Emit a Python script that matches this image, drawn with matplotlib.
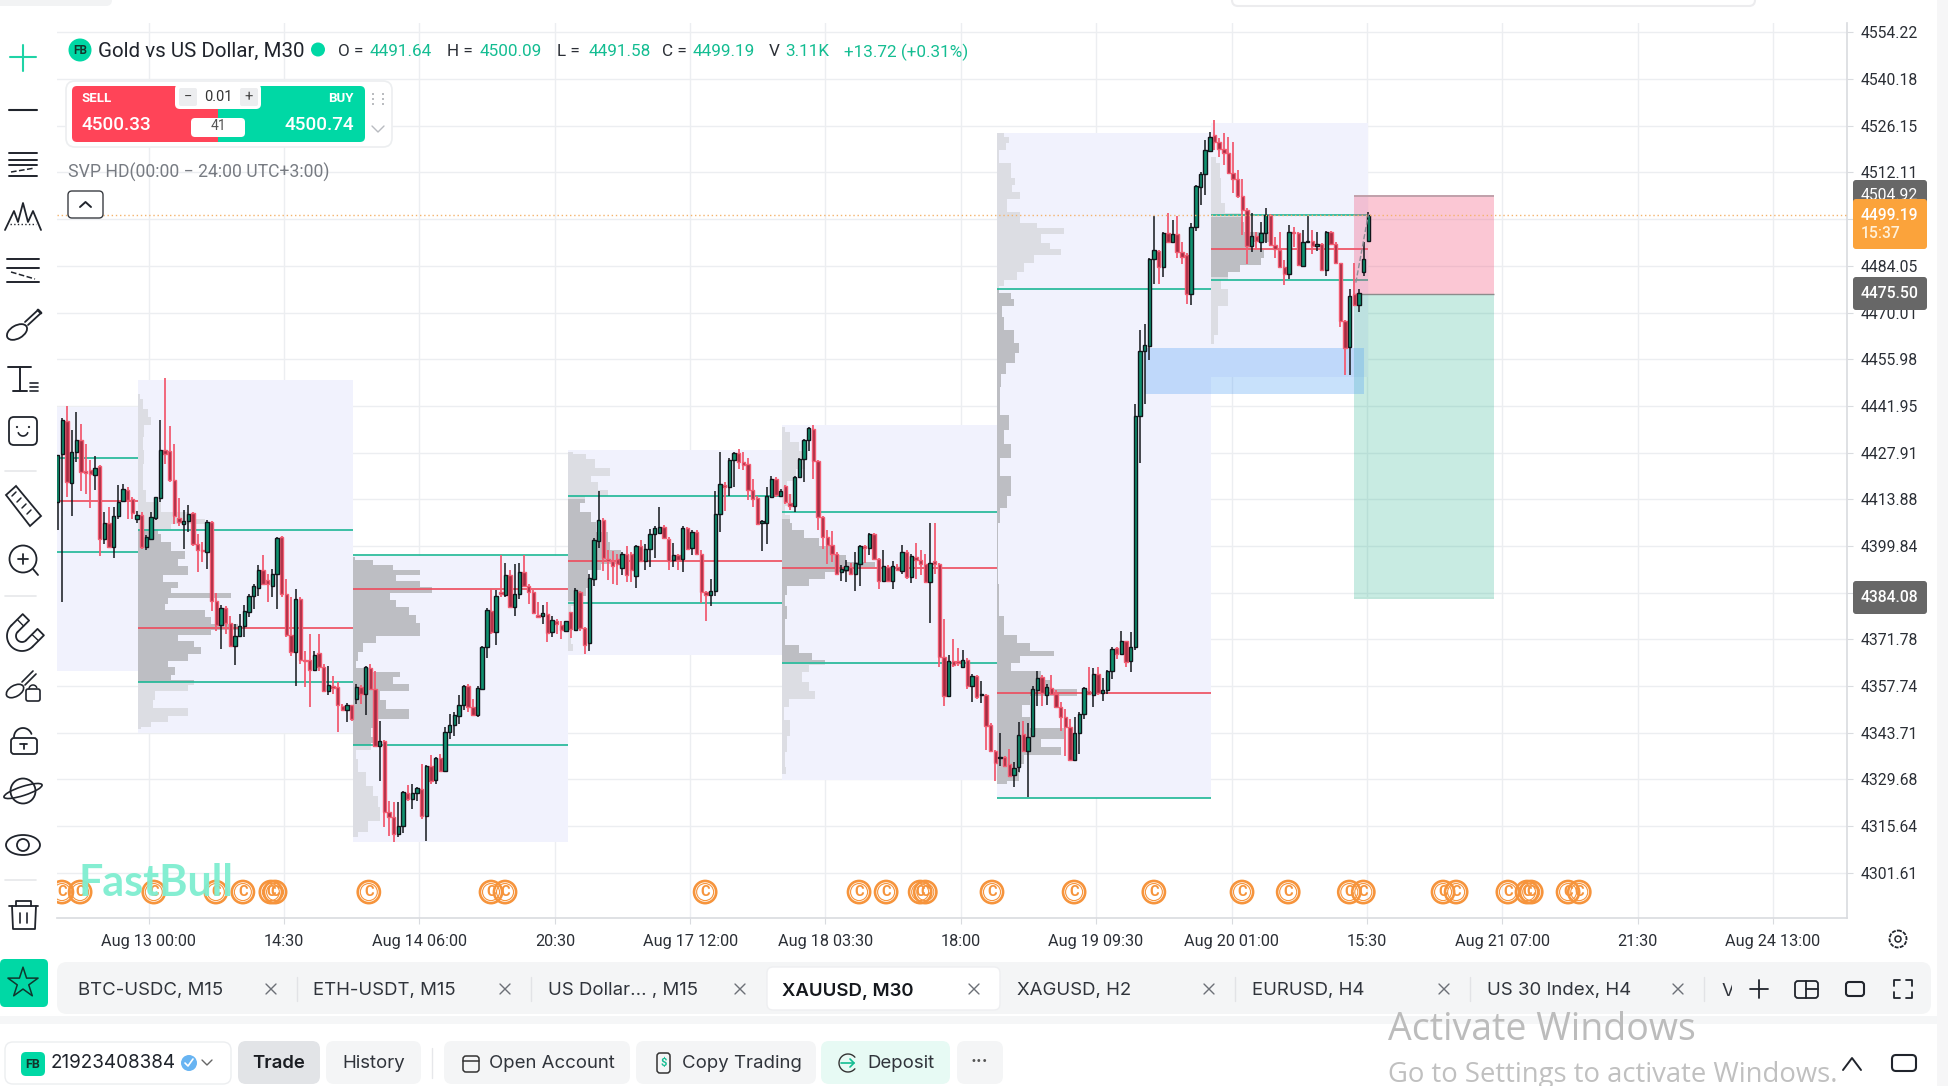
import numpy as np
import matplotlib
matplotlib.use("Agg")
import matplotlib.pyplot as plt
from matplotlib.patches import FancyBboxPatch, Rectangle, Circle, Ellipse, Polygon

W, H = 1948, 1086

# candles, M30 bars
bar_open = [
    4413.0,4427.4,4437.4,4418.9,4428.1,4431.8,4422.4,4422.6,4421.3,4423.8,
    4402.0,4406.7,4399.5,4408.7,4413.3,4416.8,4414.0,4407.9,4409.2,4399.5,
    4402.0,4408.3,4414.3,4428.6,4428.3,4419.6,4408.1,4406.5,4407.2,4409.7,
    4400.5,4398.7,4398.0,4407.0,4383.3,4376.2,4381.3,4376.7,4369.8,4372.9,
    4375.7,4379.9,4384.9,4387.3,4392.5,4389.5,4387.8,4391.3,4402.5,4385.3,
    4373.1,4367.9,4384.0,4365.6,4365.6,4362.6,4367.6,4363.6,4356.2,4357.6,
    4357.4,4351.6,4350.4,4351.9,4353.9,4357.4,4355.4,4363.1,4356.9,4339.8,
    4341.1,4319.8,4318.5,4313.2,4315.7,4325.5,4323.8,4325.5,4326.8,4318.6,
    4333.8,4329.5,4336.0,4332.1,4343.8,4346.1,4348.8,4351.9,4357.6,4351.4,
    4349.1,4356.9,4369.6,4380.3,4373.9,4385.9,4385.0,4391.0,4381.6,4385.3,
    4392.0,4387.7,4386.0,4379.2,4378.7,4379.4,4373.9,4377.2,4376.2,4374.4,
    4379.9,4374.6,4385.9,4375.2,4370.7,4389.9,4401.3,4407.7,4395.8,4395.3,
    4396.0,4393.3,4397.3,4397.5,4390.7,4399.7,4395.2,4399.0,4403.3,4403.7,
    4405.5,4402.0,4395.7,4397.2,4396.0,4405.3,4399.3,4404.0,4397.3,4385.9,
    4385.1,4386.4,4409.3,4418.3,4417.7,4425.8,4427.8,4425.1,4424.6,4416.8,
    4414.3,4406.8,4406.8,4414.5,4420.0,4415.0,4418.0,4412.7,4411.8,4420.5,
    4426.1,4431.8,4434.9,4425.3,4408.5,4402.5,4400.0,4397.3,4392.0,4392.5,
    4393.5,4391.5,4394.5,4399.7,4399.3,4403.5,4396.0,4389.4,4393.5,4389.4,
    4393.5,4392.3,4398.1,4390.4,4396.5,4395.7,4394.5,4388.9,4395.2,4394.3,
    4366.6,4354.8,4365.4,4365.2,4363.6,4365.6,4357.7,4360.7,4354.9,4355.1,
    4346.0,4338.3,4336.1,4336.3,4334.3,4331.0,4333.3,4343.3,4338.3,4342.6,
    4356.5,4360.4,4355.1,4357.1,4355.3,4351.5,4348.3,4345.3,4335.6,4343.5,
    4349.3,4356.3,4355.1,4361.2,4355.7,4356.5,4362.4,4369.2,4367.4,4371.2,
    4365.2,4369.4,4439.0,4458.5,4460.0,4486.0,4488.6,4483.8,4494.0,4491.3,
    4493.6,4488.3,4487.3,4475.7,4495.6,4507.6,4511.6,4518.7,4523.4,4521.4,
    4519.1,4517.9,4512.1,4510.3,4505.0,4500.8,4490.0,4493.1,4491.1,4493.8,
    4499.2,4490.3,4488.8,4483.6,4481.5,4494.2,4494.0,4484.1,4491.3,4491.5,
    4490.1,4490.5,4482.8,4494.3,4490.5,4484.8,4467.4,4459.7,4475.7,4472.2,
    4482.3,4491.64]
bar_high = [
    4427.1,4438.4,4441.8,4434.6,4440.1,4436.4,4430.4,4425.6,4426.8,4424.1,
    4410.0,4411.5,4411.5,4418.1,4418.6,4417.6,4414.5,4410.5,4410.0,4403.0,
    4410.0,4414.7,4437.8,4450.2,4435.8,4430.6,4414.3,4410.7,4412.2,4410.0,
    4403.5,4401.0,4407.5,4407.3,4385.7,4382.0,4381.7,4378.9,4376.4,4379.4,
    4382.2,4385.3,4388.5,4394.0,4397.0,4391.5,4393.0,4402.5,4402.7,4390.0,
    4384.5,4387.0,4384.5,4368.4,4373.4,4368.4,4373.4,4364.4,4363.9,4360.6,
    4358.9,4352.4,4352.7,4352.1,4358.2,4357.9,4363.9,4364.4,4362.4,4347.3,
    4341.5,4323.3,4322.8,4322.8,4326.3,4328.1,4328.3,4327.3,4334.3,4334.0,
    4337.1,4336.3,4337.3,4345.5,4349.3,4349.9,4354.9,4357.9,4358.4,4353.9,
    4357.6,4369.9,4381.2,4387.0,4386.5,4397.0,4394.8,4392.5,4394.3,4394.7,
    4397.0,4388.5,4386.5,4383.0,4382.0,4383.0,4378.9,4377.9,4377.4,4377.4,
    4379.9,4387.1,4386.2,4375.4,4391.3,4402.3,4416.5,4408.3,4398.5,4398.3,
    4397.5,4398.0,4399.7,4398.0,4400.0,4401.5,4400.3,4404.8,4405.7,4411.7,
    4406.0,4402.5,4400.8,4397.5,4405.8,4405.5,4404.7,4404.5,4398.5,4386.4,
    4390.0,4416.5,4428.1,4419.0,4426.3,4428.1,4429.1,4428.1,4426.4,4420.0,
    4415.0,4407.5,4417.5,4421.0,4420.5,4417.0,4418.3,4415.5,4420.8,4426.3,
    4432.1,4435.6,4436.3,4425.8,4408.7,4404.7,4404.3,4398.0,4394.0,4395.5,
    4394.7,4398.0,4400.2,4400.2,4403.7,4403.7,4396.2,4398.7,4394.0,4395.2,
    4394.5,4400.0,4398.5,4397.3,4400.8,4398.5,4397.5,4406.8,4406.8,4394.7,
    4377.9,4367.2,4371.9,4369.2,4368.6,4366.2,4361.2,4360.9,4359.2,4355.3,
    4346.5,4338.5,4343.5,4336.8,4338.8,4334.8,4346.8,4347.3,4346.5,4357.8,
    4362.4,4360.9,4358.3,4360.9,4356.5,4352.8,4350.8,4347.8,4348.5,4349.8,
    4357.3,4363.6,4363.1,4363.6,4360.0,4362.6,4369.4,4369.6,4374.4,4371.4,
    4373.9,4442.4,4464.7,4466.5,4486.3,4499.0,4488.8,4494.3,4499.8,4497.8,
    4499.0,4491.3,4487.8,4497.0,4508.3,4512.3,4521.9,4524.4,4527.9,4522.4,
    4523.9,4522.9,4521.4,4512.8,4510.3,4501.3,4499.8,4494.3,4497.3,4501.3,
    4499.6,4492.8,4494.3,4485.8,4496.3,4495.8,4494.3,4494.8,4499.0,4494.8,
    4494.3,4490.8,4494.6,4494.6,4491.1,4485.0,4467.9,4477.2,4485.0,4477.2,
    4491.3,4500.09]
bar_low = [
    4404.5,4382.9,4414.7,4408.7,4425.1,4416.4,4415.6,4411.2,4416.6,4396.7,
    4400.3,4399.3,4396.3,4408.0,4413.0,4408.0,4408.0,4406.7,4399.0,4398.5,
    4401.5,4407.5,4413.0,4424.6,4419.1,4406.5,4405.7,4399.0,4404.0,4399.7,
    4392.0,4395.0,4393.0,4380.4,4374.4,4368.9,4373.4,4369.4,4364.2,4372.4,
    4372.4,4378.6,4380.9,4384.7,4388.0,4383.0,4384.5,4380.9,4384.5,4372.4,
    4366.9,4357.7,4364.4,4357.4,4351.4,4362.4,4362.4,4355.9,4354.9,4355.2,
    4343.8,4350.2,4346.8,4347.3,4352.2,4352.4,4349.1,4356.6,4339.8,4329.3,
    4315.3,4312.7,4310.9,4312.2,4313.7,4323.3,4320.8,4323.3,4317.8,4311.2,
    4328.3,4328.3,4331.8,4331.8,4341.8,4342.8,4346.3,4350.4,4349.9,4348.8,
    4348.3,4356.6,4366.2,4373.4,4370.2,4384.5,4384.5,4381.4,4378.9,4384.0,
    4387.5,4382.4,4379.4,4378.4,4376.4,4370.9,4372.4,4373.4,4371.9,4373.9,
    4372.1,4374.4,4374.4,4367.4,4368.2,4387.9,4399.2,4392.3,4389.6,4388.4,
    4388.2,4391.2,4388.9,4388.9,4387.1,4395.0,4392.5,4393.5,4396.2,4403.5,
    4402.0,4392.5,4393.5,4392.7,4392.0,4398.7,4397.0,4397.0,4382.6,4377.4,
    4381.7,4384.9,4404.0,4410.5,4415.0,4417.5,4423.0,4422.7,4413.7,4411.5,
    4406.0,4398.3,4400.3,4414.3,4414.7,4414.7,4412.5,4410.7,4410.0,4420.2,
    4419.0,4428.4,4420.0,4404.5,4399.0,4394.3,4395.0,4391.0,4389.2,4388.9,
    4391.2,4386.2,4387.7,4394.7,4397.0,4395.7,4386.9,4389.2,4388.9,4386.9,
    4392.3,4391.5,4389.9,4388.6,4389.9,4391.0,4388.6,4376.6,4391.5,4363.6,
    4351.8,4354.5,4363.6,4363.9,4363.4,4356.9,4352.8,4353.8,4352.5,4338.5,
    4338.1,4329.3,4333.8,4333.3,4330.3,4327.3,4331.8,4337.8,4324.4,4342.3,
    4351.8,4351.8,4352.1,4355.1,4351.3,4344.3,4336.8,4335.1,4335.3,4337.3,
    4347.8,4355.1,4351.3,4355.1,4353.3,4355.3,4359.8,4365.9,4367.2,4363.4,
    4361.9,4368.6,4424.7,4442.6,4455.7,4478.5,4478.5,4480.6,4491.0,4491.0,
    4486.3,4484.6,4472.7,4472.2,4494.6,4502.3,4505.3,4518.4,4518.9,4516.7,
    4514.4,4511.8,4505.8,4504.3,4493.3,4484.6,4488.3,4489.0,4488.3,4490.8,
    4490.0,4486.3,4483.3,4478.2,4480.2,4489.6,4484.0,4483.8,4490.8,4487.5,
    4488.6,4482.5,4481.1,4490.3,4484.6,4465.7,4451.2,4451.2,4471.9,4470.2,
    4481.0,4491.58]
bar_close = [
    4427.1,4437.8,4419.1,4428.1,4431.8,4422.1,4421.8,4421.6,4423.4,4402.0,
    4406.7,4399.5,4408.9,4413.2,4416.9,4413.7,4409.7,4409.2,4399.5,4402.5,
    4408.5,4414.5,4428.6,4427.6,4419.6,4408.9,4406.9,4407.3,4409.5,4400.5,
    4398.5,4398.3,4407.0,4383.3,4376.2,4381.3,4376.7,4369.8,4372.9,4375.9,
    4380.4,4384.9,4387.7,4392.5,4388.5,4388.5,4391.3,4402.2,4385.3,4373.1,
    4367.9,4384.0,4365.6,4365.4,4362.6,4367.2,4363.6,4356.2,4358.1,4357.2,
    4351.9,4350.4,4352.1,4347.8,4357.4,4355.4,4363.4,4356.9,4339.8,4341.1,
    4319.8,4318.3,4313.2,4315.7,4326.0,4323.8,4325.5,4327.0,4318.8,4333.8,
    4329.3,4336.0,4332.3,4343.8,4346.0,4349.1,4351.9,4357.6,4351.4,4349.1,
    4357.2,4369.6,4380.7,4373.9,4384.8,4385.3,4391.0,4381.6,4385.3,4392.0,
    4387.7,4386.0,4379.6,4378.6,4379.6,4373.6,4377.6,4376.4,4374.6,4377.2,
    4374.9,4386.6,4375.2,4370.2,4390.1,4401.5,4407.7,4396.2,4395.3,4393.7,
    4394.5,4397.3,4391.2,4392.5,4399.7,4395.3,4399.0,4403.3,4405.3,4405.5,
    4402.2,4395.3,4397.2,4395.5,4405.3,4399.0,4404.0,4397.3,4385.9,4385.1,
    4386.4,4409.3,4418.5,4417.5,4425.8,4427.8,4425.1,4424.3,4416.8,4414.0,
    4406.5,4407.2,4414.8,4420.0,4415.2,4416.3,4413.0,4411.8,4420.5,4426.1,
    4431.8,4435.4,4425.3,4408.5,4402.5,4400.0,4397.3,4391.5,4393.0,4393.7,
    4391.5,4394.8,4399.8,4399.3,4403.3,4396.0,4389.4,4393.8,4389.4,4393.7,
    4392.7,4398.1,4390.4,4396.7,4395.7,4394.5,4388.9,4394.8,4394.3,4366.6,
    4354.8,4365.2,4364.2,4364.6,4365.6,4357.6,4360.7,4354.3,4355.3,4345.8,
    4338.3,4334.5,4336.3,4333.8,4330.8,4333.1,4343.1,4338.3,4342.5,4356.8,
    4360.0,4355.5,4357.3,4355.3,4351.5,4348.3,4345.3,4335.5,4343.5,4349.3,
    4357.1,4355.3,4361.2,4355.5,4356.6,4362.4,4368.9,4367.4,4371.2,4364.9,
    4369.4,4439.0,4458.5,4460.2,4486.1,4488.8,4483.8,4494.0,4491.3,4493.6,
    4488.3,4486.8,4475.7,4495.6,4508.0,4511.8,4518.9,4522.9,4521.4,4519.1,
    4517.9,4512.1,4510.3,4505.0,4500.8,4490.0,4493.1,4491.6,4494.0,4499.2,
    4490.3,4489.0,4483.6,4481.6,4494.3,4493.8,4484.3,4491.1,4491.5,4490.0,
    4490.5,4482.8,4494.3,4490.5,4484.8,4467.4,4459.5,4475.0,4472.2,4475.9,
    4486.0,4499.19]

# session volume profile blocks: start bar, end bar, top, bottom, VAH, POC, VAL
session_start = [-1.0, 17.2, 63.3, 109.4, 155.3, 201.4, 247.3]
session_end = [17.2, 63.3, 109.4, 155.3, 201.4, 247.3, 280.9]
session_top = [4441.6, 4449.7, 4396.8, 4428.8, 4436.1, 4524.1, 4526.9]
session_bottom = [4362.4, 4343.5, 4310.9, 4367.1, 4329.5, 4324.2, 4450.7]
session_vah = [4426.3, 4404.7, 4397.0, 4414.8, 4409.9, 4477.2, 4499.3]
session_poc = [4413.5, 4375.3, 4386.8, 4395.4, 4393.2, 4355.5, 4489.0]
session_val = [4398.0, 4358.9, 4339.9, 4382.8, 4364.6, 4324.2, 4479.7]

# profile levels (price) and their widths (in bars)
prof_b_price = [4445.6,4442.6,4439.6,4437.6,4434.6,4430.6,4426.6,4422.6,4418.6,4414.6,4411.5,4408.5,4407.5,4405.5,4404.5,4402.5,4399.5,4397.0,4395.0,4392.5,4390.0,4388.0,4386.5,4385.0,4383.5,4381.5,4379.4,4377.4,4375.3,4373.9,4372.4,4370.4,4368.4,4366.4,4364.4,4362.4,4359.9,4358.9,4357.4,4354.9,4352.4,4349.9,4347.8,4346.3,4344.8]
prof_b_width = [0.4,1.1,2.1,2.9,1.4,1.1,1.4,1.1,1.1,1.8,5,10.7,14.3,7.1,4.3,5,7.1,10,8.6,10.7,5.4,8.6,7.1,20,6.4,5.7,14.3,15.7,21.4,15.7,8.6,12.1,13.6,10.7,6.4,7.9,7.1,12.1,10.7,3.6,3.2,10.7,6.4,2.9,0.7]
prof_c_price = [4396.5,4395.0,4393.5,4392.0,4390.0,4388.5,4386.8,4384.5,4382.5,4380.4,4377.9,4375.4,4373.4,4371.9,4369.4,4366.4,4363.9,4362.4,4361.4,4359.4,4357.4,4354.9,4352.4,4349.4,4346.3,4343.8,4341.3,4339.9,4337.3,4334.3,4329.3,4326.3,4323.3,4319.3,4315.3,4312.2]
prof_c_width = [0.4,4.3,8.6,14.3,9.3,14.3,17,7.9,9.3,12.1,13.6,14.3,14.3,5,2.1,1.1,0.7,4.3,10,8.6,12.1,5.7,7.1,12.1,4.3,3.9,5,3.9,0.7,1.1,2.9,4.3,5.4,5.7,3.2,1.1]
prof_d_price = [4428.1,4427.1,4424.6,4422.0,4420.0,4418.0,4415.5,4414.0,4411.5,4408.5,4405.5,4402.5,4399.5,4398.0,4395.5,4393.5,4391.5,4388.4,4385.9,4383.4,4380.4,4375.4,4372.4,4368.4]
prof_d_width = [1.1,3.9,5.7,8.9,5,6.4,8.6,3.6,2.5,5,6.1,8.6,8.9,11.4,12.1,7.1,4.3,5,3.9,1.4,0.7,0.4,0.7,1.1]
prof_e_price = [4435.6,4432.6,4429.6,4427.1,4424.6,4421.5,4417.5,4413.5,4410.5,4408.0,4405.5,4403.5,4401.0,4398.5,4396.0,4394.0,4393.0,4391.0,4388.9,4386.9,4383.4,4380.4,4375.4,4371.4,4368.9,4366.4,4364.9,4363.4,4360.4,4357.4,4354.8,4352.8,4349.8,4345.3,4340.3,4335.3,4331.3]
prof_e_width = [0.6,1.8,3.6,4.3,5,2.9,1.1,2.1,0.7,1.8,2.1,4.6,7.9,10.7,13.6,20,14.3,9.3,5.7,1.1,0.7,1.1,0.7,0.7,3.6,6.4,9.3,5.7,4.3,5.7,7.1,1.4,0.4,1.8,1.1,0.7,0.9]
prof_f_price = [4523.9,4521.9,4519.9,4517.9,4511.8,4509.3,4507.3,4505.3,4502.8,4497.8,4495.8,4494.8,4492.3,4489.8,4488.3,4486.3,4483.3,4480.8,4478.7,4477.2,4474.7,4473.2,4470.7,4466.7,4462.7,4459.2,4456.2,4453.2,4449.7,4445.6,4441.6,4437.1,4432.6,4428.1,4424.5,4417.5,4412.5,4410.0,4403.5,4393.4,4383.4,4374.4,4371.9,4369.4,4367.4,4365.9,4363.4,4360.9,4358.3,4355.5,4353.8,4350.3,4346.8,4343.3,4340.3,4338.3,4335.8,4332.8,4330.3,4328.3]
prof_f_width = [1.4,2.5,1.8,0.4,2.9,3.9,3.2,5,2.1,5,8.6,14.3,9.3,11.4,13.6,7.9,5.7,4.3,1.4,0.4,2.9,3.6,1.1,1.4,3.6,4.6,3.9,1.8,0.9,0.7,0.7,2.5,1.4,2.9,0.6,2.9,2.1,0.7,0.15,0.15,0.4,1.4,4.3,7.1,12.1,5,2.9,9.3,11.4,17.1,7.1,5.4,7.1,14.3,9.3,13.6,5.7,5,4.6,2.1]
prof_g_price = [4516.9,4512.9,4507.8,4504.8,4500.8,4498.8,4495.8,4492.8,4489.8,4487.8,4485.3,4483.3,4480.8,4478.7,4475.2,4473.2,4470.7,4465.7,4460.7]
prof_g_width = [1.1,1.8,2.1,2.1,2.9,6.4,7.1,12.9,8.6,11.4,10.7,6.1,3.6,2.1,3.6,3.6,1.4,1.4,0.7]

# axis
price_ticks = [4554.22,4540.18,4526.15,4512.11,4498.08,4484.05,4470.01,4455.98,4441.95,4427.91,4413.88,4399.84,4385.81,4371.78,4357.74,4343.71,4329.68,4315.64,4301.61]
time_ticks = [19.5,48.5,77.5,106.6,135.6,164.6,193.6,222.6,251.7,280.7,309.7,338.7,367.7]
time_labels = ["Aug 13 00:00","14:30","Aug 14 06:00","20:30","Aug 17 12:00","Aug 18 03:30","18:00","Aug 19 09:30","Aug 20 01:00","15:30","Aug 21 07:00","21:30","Aug 24 13:00"]

# calendar event markers along the bottom, by bar
event_bars = [0.9,4.8,20.6,33.9,39.7,45.7,46.6,66.7,92.9,95.9,138.8,171.8,177.6,184.9,186.0,200.3,217.9,235.0,253.9,263.8,276.9,279.9,297.0,299.8,310.9,315.0,315.9,323.8,326.2]
event_price = 4295.8

last_price = 4499.19
entry_price = 4475.50
stop_price = 4504.92
target_price = 4384.08

GREEN = "#00d8a5"
RED = "#ff4458"
INK = "#20242c"
GRID = "#eceef1"

plt.rcParams["font.family"] = ["Roboto", "DejaVu Sans"]

fig = plt.figure(figsize=(W / 100, H / 100), dpi=100, facecolor="white")

# price chart, placed so the axis lines land on the right pixels
ax = fig.add_axes([57 / W, 1 - 918 / H, (1847 - 57) / W, (918 - 23) / H])
ax.set_xlim(-0.15, 383.6)
ax.set_ylim(4288.0, 4557.05)
ax.set_axisbelow(True)
ax.grid(True, color=GRID, lw=1.0)
for s in ["top", "left"]:
    ax.spines[s].set_visible(False)
for s in ["right", "bottom"]:
    ax.spines[s].set_color("#d9dbdf")
    ax.spines[s].set_linewidth(1.2)
ax.yaxis.tick_right()
ax.set_yticks(price_ticks)
ax.set_yticklabels([f"{p:.2f}" for p in price_ticks], fontsize=11.3, color="#2b2f36")
ax.set_xticks(time_ticks)
ax.set_xticklabels(time_labels, fontsize=11.7, color="#2b2f36")
ax.tick_params(axis="y", length=4, width=0.8, color="#d9dbdf", pad=6)
ax.tick_params(axis="x", length=4, width=0.8, color="#d9dbdf", pad=7.5)

# session blocks
for x0, x1, top, bot in zip(session_start, session_end, session_top, session_bottom):
    ax.add_patch(Rectangle((x0, bot), x1 - x0, top - bot, fc="#f1f2fd", ec="none", zorder=1))

profiles = [(1, prof_b_price, prof_b_width), (2, prof_c_price, prof_c_width),
            (3, prof_d_price, prof_d_width), (4, prof_e_price, prof_e_width),
            (5, prof_f_price, prof_f_width), (6, prof_g_price, prof_g_width)]
for k, levels, widths in profiles:
    levels = np.array(levels)
    widths = np.array(widths)
    x0 = session_start[k]
    ax.fill_betweenx(levels, x0, x0 + widths, step="mid", color="#dcdde3", lw=0, zorder=2)
    inside = (levels <= session_vah[k]) & (levels >= session_val[k])
    ax.fill_betweenx(levels, x0, x0 + widths, where=inside, step="mid", color="#bdbec3", lw=0, zorder=2.1)

ax.hlines(session_vah, session_start, session_end, color="#1db795", lw=1.2, zorder=3)
ax.hlines(session_val, session_start, session_end, color="#1db795", lw=1.2, zorder=3)
ax.hlines(session_poc, session_start, session_end, color="#ee4b5c", lw=1.2, zorder=3)

# position tool and zone, see-through and under the candles
ax.add_patch(Rectangle((277.9, entry_price), 30.1, stop_price - entry_price, fc="#f4577f", alpha=0.33, ec="none", zorder=3.5))
ax.add_patch(Rectangle((277.9, target_price), 30.1, entry_price - target_price, fc="#19ae86", alpha=0.24, ec="none", zorder=3.5))
ax.add_patch(Rectangle((233.1, 4445.4), 47.0, 14.1, fc="#5aa5f5", alpha=0.33, ec="none", zorder=3.5))
ax.hlines([stop_price], 277.9, 308, color="#c0a0aa", lw=1.4, zorder=3.6)
ax.hlines([entry_price], 277.9, 308, color="#8c8c8c", lw=1.0, zorder=3.6)
ax.hlines([target_price], 277.9, 308, color="#bfe5da", lw=1.4, zorder=3.6)

# candles
bars = np.arange(len(bar_close))
o, h, l, c = map(np.array, (bar_open, bar_high, bar_low, bar_close))
up = c >= o
ax.vlines(bars[~up], l[~up], h[~up], color="#f25c72", lw=1.3, zorder=4)
ax.vlines(bars[up], l[up], h[up], color="#14181c", lw=1.1, zorder=4.1)
ax.bar(bars[~up], np.abs(c - o)[~up], bottom=np.minimum(o, c)[~up], width=0.72,
       color="#a52c42", edgecolor="#f25c72", linewidth=1.0, zorder=4.2)
ax.bar(bars[up], np.abs(c - o)[up], bottom=np.minimum(o, c)[up], width=0.72,
       color="#0f9270", edgecolor="#10161a", linewidth=1.0, zorder=4.3)
ax.plot([278.3, 281], [4479, 4499.6], ls="--", color="#8d8d96", lw=1.0, zorder=4.4)
ax.axhline(last_price, color="#f4b36c", lw=1.0, ls=(0, (1, 2)), zorder=5.2)

# event markers
ax.scatter(event_bars, [event_price] * len(event_bars), s=255, facecolors="none",
           edgecolors="#f6943c", linewidths=1.9, zorder=6)
ax.scatter(event_bars, [event_price] * len(event_bars), s=150, facecolors="none",
           edgecolors="#f6943c", linewidths=0.8, zorder=6)
for b in event_bars:
    ax.text(b, event_price, "C", color="#f6943c", fontsize=10.5, ha="center", va="center",
            fontweight="bold", zorder=6, clip_on=True)
ax.text(4.4, 4298.5, "FastBull", color="#7feed0", fontsize=31, fontweight="bold",
        family="Lato", ha="left", va="center", alpha=0.95, zorder=7)

# everything else on a pixel overlay
ui = fig.add_axes([0, 0, 1, 1], zorder=5)
ui.set_xlim(0, W)
ui.set_ylim(H, 0)
ui.axis("off")
ui.patch.set_alpha(0)


def box(x0, y0, x1, y1, fc, ec="none", r=6, lw=1.0, z=2):
    p = FancyBboxPatch((x0 + r, y0 + r), x1 - x0 - 2 * r, y1 - y0 - 2 * r,
                       boxstyle=f"round,pad={r},rounding_size={r}", fc=fc, ec=ec, lw=lw, zorder=z)
    ui.add_patch(p)


def line(xs, ys, color=INK, lw=1.3, ls="-", z=4):
    ui.plot(xs, ys, color=color, lw=lw, ls=ls, zorder=z, solid_capstyle="round")


def arc(cx, cy, r, a0, a1, color=INK, lw=1.3):
    t = np.radians(np.linspace(a0, a1, 40))
    line(cx + r * np.cos(t), cy + r * np.sin(t), color=color, lw=lw)


def label(x, y, s, size=13, color=INK, ha="left", weight="normal", family="Inter", z=6):
    ui.text(x, y, s, fontsize=size, color=color, ha=ha, va="center", fontweight=weight, family=family, zorder=z)


# top slivers and right strip
box(-10, -20, 112, 6, "#f2f3f4", r=6)
box(1232, -20, 1755, 6, "white", ec="#ececee", r=6, lw=1.5)
ui.add_patch(Rectangle((1937, 0), 11, H, fc="#f6f6f7", ec="none", zorder=1))

# legend row
ui.add_patch(Circle((80, 50), 11.5, fc=GREEN, ec="none", zorder=3))
label(80, 50.5, "FB", 8.5, "#12352c", "center", "bold", "Roboto")
label(97.5, 51, "Gold vs US Dollar, M30", 14.8, INK, family="Roboto")
ui.add_patch(Circle((318, 49.5), 7, fc=GREEN, ec="none", zorder=3))
for x, s in [(338, "O ="), (447, "H ="), (557, "L ="), (662, "C ="), (769, "V")]:
    label(x, 52, s, 12.3, "#2b2f36", family="Roboto")
for x, s in [(370, "4491.64"), (480, "4500.09"), (589, "4491.58"), (693, "4499.19"), (785, "3.11K"), (844, "+13.72 (+0.31%)")]:
    label(x, 52, s, 12.3, "#14bd92", family="Roboto")

# trade widget
box(66, 81, 392, 147, "white", ec="#eceef0", r=9, lw=1.2)
box(72, 86, 224, 142, RED, r=5, z=3)
box(212, 86, 365, 142, GREEN, r=5, z=3)
ui.add_patch(Rectangle((205, 86), 13, 56, fc=RED, ec="none", zorder=3.1))
ui.add_patch(Rectangle((218, 86), 13, 56, fc=GREEN, ec="none", zorder=3.1))
box(175, 84, 261, 109, "white", r=5, z=4)
box(179, 88, 197, 106, "#ecedef", r=2, z=4.1)
box(240, 88, 258, 106, "#ecedef", r=2, z=4.1)
label(188, 97, "−", 10.5, "#444", "center", family="Roboto")
label(249, 97, "+", 10.5, "#444", "center", family="Roboto")
label(218, 97, "0.01", 10.5, "#333", "center", family="Roboto")
box(191, 118, 245, 137, "white", r=4, z=4)
label(218, 126, "41", 10, "#555", "center", family="Roboto")
label(82, 99, "SELL", 9.5, "white", weight="bold", family="Roboto")
label(354, 99, "BUY", 9.5, "white", "right", "bold", "Roboto")
label(82, 125, "4500.33", 13.6, "white", weight="medium", family="Roboto")
label(354, 125, "4500.74", 13.6, "white", "right", "medium", "Roboto")
for dx in (373, 383):
    for dy in (94, 99, 104):
        ui.add_patch(Circle((dx, dy), 1.0, fc="#a8abb0", ec="none", zorder=4))
line([372, 378, 384], [126, 132, 126], "#b8bbc0", 1.0)

label(68, 172, "SVP HD(00:00 − 24:00 UTC+3:00)", 12.7, "#777b82", family="Roboto")
box(68, 191, 103, 218, "white", ec="#3a3d42", r=4, lw=1.0)
line([80, 85.5, 91], [207, 202, 207], INK, 1.4)

# price badges over the axis labels
box(1853, 180, 1927, 204, "#676767", r=3, z=5)
label(1861, 196, "4504.92", 11.3, "white", family="Roboto", z=5.1)
box(1853, 199, 1927, 249, "#fba33b", r=3, z=5.5)
label(1861, 215, "4499.19", 11.3, "white", weight="medium", family="Roboto")
label(1861, 233, "15:37", 11.3, "#fff0d8", weight="medium", family="Roboto")
box(1853, 277, 1927, 310, "#676767", r=3, z=5)
label(1861, 294, "4475.50", 11.3, "white", weight="medium", family="Roboto")
box(1853, 581, 1927, 614, "#676767", r=3, z=5)
label(1861, 598, "4384.08", 11.3, "white", weight="medium", family="Roboto")

# gear
ui.add_patch(Circle((1898, 939), 8.5, fc="white", ec=INK, lw=1.3, ls=(0, (2.2, 0.7)), zorder=4))
ui.add_patch(Circle((1898, 939), 3.0, fc="white", ec=INK, lw=1.1, zorder=4))

# left toolbar
line([10, 36], [57, 57], "#1fd3a6", 1.5)
line([23, 23], [45, 71], "#1fd3a6", 1.5)
line([9, 37], [110, 110], INK, 1.5)
for y in (153, 160, 165, 176):
    line([9, 37], [y, y], INK, 1.4)
line([11, 35], [172, 168], INK, 1.1, "--")
line([5, 14, 18, 23, 28, 33, 41], [230, 211, 222, 203, 222, 211, 230], INK, 1.3)
line([10, 36], [224, 224], INK, 1.0, ":")
for y in (259, 268, 282):
    line([7, 39], [y, y], INK, 1.4)
line([11, 35], [272, 279], INK, 1.1, "--")
# brush
line([38, 25], [310, 322], INK, 1.3)
line([41, 28], [313, 325], INK, 1.3)
line([38, 41], [310, 313], INK, 2.0)
ui.add_patch(Ellipse((17, 332), 22, 13, angle=-30, fc="none", ec=INK, lw=1.3, zorder=4))
# text tool
line([8, 31], [367, 367], INK, 1.4)
line([20, 20], [367, 391], INK, 1.4)
line([13, 27], [391, 391], INK, 1.4)
for y in (383, 387, 391):
    line([30, 38], [y, y], INK, 1.2)
# smile
box(9, 417, 37, 445, "none", ec=INK, r=5, lw=1.3, z=4)
ui.add_patch(Circle((17, 427), 1.1, fc=INK, zorder=4))
ui.add_patch(Circle((29, 427), 1.1, fc=INK, zorder=4))
arc(23, 431, 5, 20, 160, lw=1.2)
line([5, 36], [471, 471], "#e6e7ea", 1.2)
# ruler
ui.add_patch(Polygon([(6, 495), (16, 486), (41, 516), (30, 526)], closed=True, fc="none", ec=INK, lw=1.3, zorder=4))
for x0, y0 in [(16, 492), (21, 498), (26, 504), (31, 510)]:
    line([x0, x0 - 4], [y0, y0 + 4], INK, 1.1)
# zoom
ui.add_patch(Circle((23, 559), 13.5, fc="none", ec=INK, lw=1.3, zorder=4))
line([18, 28], [559, 559], INK, 1.3)
line([23, 23], [554, 564], INK, 1.3)
line([33, 38], [569, 575], INK, 1.3)
line([5, 36], [596, 596], "#e6e7ea", 1.2)
# magnet
arc(22, 636, 15, 45, 225, lw=1.3)
arc(22, 636, 6, 45, 225, lw=1.3)
line([32.6, 43.9, 37.5, 26.2], [646.6, 635.3, 628.9, 640.2], INK, 1.3)
line([11.4, 22.7, 29.1, 17.8], [625.4, 614.1, 620.5, 631.8], INK, 1.3)
line([38.5, 32], [640.7, 634.5], INK, 1.0)
line([17.3, 23.6], [619.5, 626], INK, 1.0)
# brush with lock
line([33, 22], [671, 682], INK, 1.2)
line([36, 25], [674, 685], INK, 1.2)
ui.add_patch(Ellipse((15, 691), 19, 11, angle=-30, fc="none", ec=INK, lw=1.2, zorder=4))
box(26, 689, 40, 701, "none", ec=INK, r=2, lw=1.2, z=4)
arc(33, 689, 4, 180, 340, lw=1.1)
# open lock
box(11, 738, 37, 754, "none", ec=INK, r=3, lw=1.3, z=4)
arc(23, 737, 9, 180, 340, lw=1.3)
line([20, 27], [744, 744], INK, 1.3)
line([23.5, 23.5], [744, 749], INK, 1.3)
# planet
ui.add_patch(Circle((23, 791), 12.5, fc="white", ec=INK, lw=1.3, zorder=4))
ui.add_patch(Ellipse((23, 791), 40, 9, angle=-18, fc="none", ec=INK, lw=1.2, zorder=4))
# eye
ui.add_patch(Ellipse((23, 845), 34, 20, fc="none", ec=INK, lw=1.3, zorder=4))
ui.add_patch(Circle((23, 845), 6, fc="none", ec=INK, lw=1.3, zorder=4))
line([5, 36], [880, 880], "#e6e7ea", 1.2)
# trash
line([9, 38], [906, 906], INK, 1.3)
line([16, 16, 31, 31], [906, 901, 901, 906], INK, 1.3)
line([12, 13, 35, 36], [906, 929, 929, 906], INK, 1.3)
line([20, 20], [913, 923], INK, 1.2)
line([27, 27], [913, 923], INK, 1.2)

# tab strip
box(0, 959, 48, 1007, GREEN, r=5, z=3)
ui.scatter([23], [983], s=520, marker="*", facecolors="none", edgecolors="#10382e", linewidths=1.1, zorder=4)
box(57, 962, 1931, 1014, "#f4f5f6", r=10, z=2)
box(767, 967, 1000, 1010, "white", ec="#eeeff1", r=6, z=3)
tabs = [(78, 271, "BTC-USDC, M15"), (313, 505, "ETH-USDT, M15"), (548, 740, "US Dollar... , M15"),
        (782, 974, "XAUUSD, M30"), (1017, 1209, "XAGUSD, H2"), (1252, 1444, "EURUSD, H4"),
        (1487, 1678, "US 30 Index, H4")]
for tx, cx, s in tabs:
    active = s.startswith("XAU")
    label(tx, 991, s, 13.4, "#15181d" if active else "#30343b", weight="semibold" if active else "normal")
    line([cx - 5, cx + 5], [984, 994], "#6c7077", 1.0)
    line([cx - 5, cx + 5], [994, 984], "#6c7077", 1.0)
for x in (297, 531, 1235, 1470, 1704):
    line([x, x], [977, 1001], "#e2e3e6", 1.0)
label(1722, 991, "V", 13.4, "#30343b")
ui.add_patch(Rectangle((1732, 970), 12, 38, fc="#f4f5f6", ec="none", zorder=7))
line([1759, 1759], [980, 998], INK, 1.3, z=8)
line([1750, 1768], [989, 989], INK, 1.3, z=8)
box(1795, 981, 1818, 998, "none", ec=INK, r=3, lw=1.3, z=8)
line([1806, 1806], [981, 998], INK, 1.3, z=8)
line([1806, 1818], [989, 989], INK, 1.3, z=8)
box(1846, 982, 1864, 996, "none", ec=INK, r=3, lw=1.5, z=8)
for sx, sy in [(1, 1), (1, -1), (-1, 1), (-1, -1)]:
    line([1903 + sx * 9, 1903 + sx * 9, 1903 + sx * 3], [989 + sy * 3, 989 + sy * 9, 989 + sy * 9], INK, 1.3, z=8)

# bottom panel
ui.add_patch(Rectangle((0, 1016), 1937, 8, fc="#f5f6f7", ec="none", zorder=1))
box(5, 1042, 231, 1084, "white", ec="#eceef0", r=8, z=2)
box(21, 1052, 45, 1076, GREEN, r=5, z=3)
label(33, 1064, "FB", 9, "#12352c", "center", "bold", "Roboto")
label(51, 1063.5, "21923408384", 13.6)
ui.add_patch(Circle((189, 1063), 8, fc="#68b4f2", ec="none", zorder=3))
line([185, 188, 193], [1063, 1066, 1059], "white", 1.2)
line([202, 207, 212], [1060, 1065, 1060], "#666", 1.0)
box(238, 1041, 320, 1084, "#e2e4e7", r=8)
label(279, 1063.5, "Trade", 13.4, "#1a1d22", "center", "semibold")
box(326, 1041, 421, 1084, "#f4f5f6", r=8)
label(373.5, 1063.5, "History", 13.4, "#30343b", "center")
line([432, 432], [1048, 1078], "#e6e7ea", 1.0)
box(444, 1041, 630, 1084, "#f4f5f6", r=8)
box(463, 1056, 479, 1072, "none", ec="#333", r=3, lw=1.1, z=4)
line([463, 479], [1061, 1061], "#333", 1.1)
label(489, 1063.5, "Open Account", 13.4, "#30343b")
box(636, 1041, 816, 1084, "#f4f5f6", r=8)
box(657, 1053, 670, 1073, "none", ec="#333", r=3, lw=1.1, z=4)
label(663.5, 1063, "$", 8, "#14bd92", "center", "bold", "Roboto")
label(682, 1063.5, "Copy Trading", 13.4, "#30343b")
box(821, 1041, 950, 1084, "#e7faf4", r=8)
arc(848, 1063, 9, 40, 320, color="#333", lw=1.0)
line([841, 854], [1063, 1063], "#14bd92", 1.2)
line([850, 854, 850], [1059, 1063, 1067], "#14bd92", 1.2)
label(867, 1063.5, "Deposit", 13.4, "#30343b")
box(957, 1041, 1003, 1084, "#f4f5f6", r=8)
label(979, 1061, "•••", 7, "#555", "center", family="DejaVu Sans")
line([1843, 1852, 1861], [1070, 1058, 1070], INK, 1.4, z=8)
box(1892, 1055, 1916, 1071, "none", ec=INK, r=4, lw=1.5, z=8)

# windows watermark
ui.text(1388, 1030, "Activate Windows", fontsize=27, color="#bcbcbc", family="Open Sans", va="center", zorder=9, clip_on=True)
ui.text(1388, 1075, "Go to Settings to activate Windows.", fontsize=19.8, color="#c0c0c0", family="Open Sans", va="center", zorder=9, clip_on=True)

fig.savefig("out.png", dpi=100)
